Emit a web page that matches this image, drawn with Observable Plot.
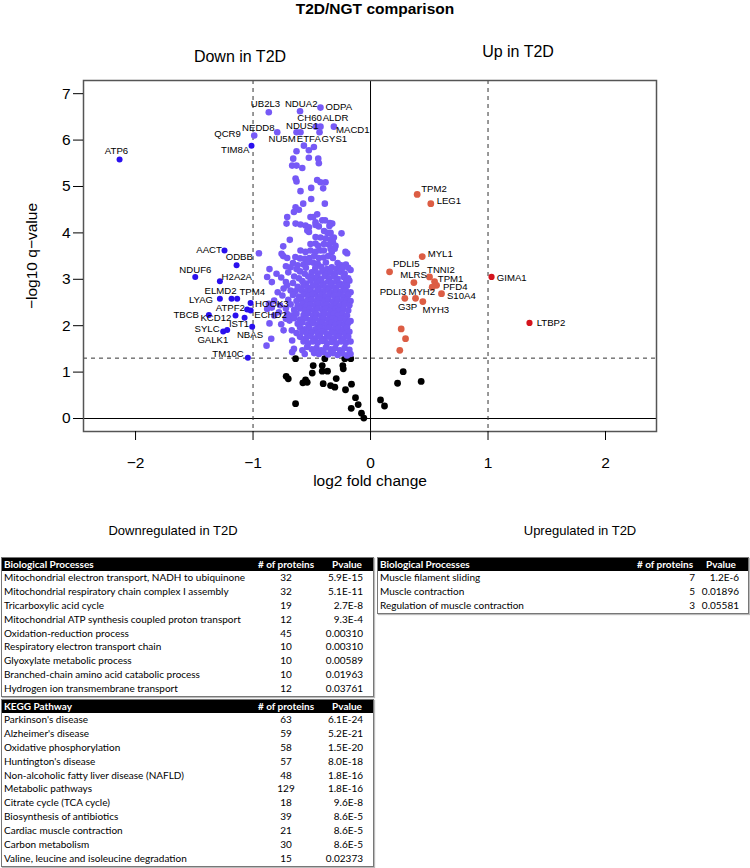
<!DOCTYPE html>
<html><head><meta charset="utf-8">
<script src="https://cdn.jsdelivr.net/npm/d3@7"></script>
<script src="https://cdn.jsdelivr.net/npm/@observablehq/plot@0.6"></script>
<style>
body{margin:0;background:#fff;}
#wrap{position:relative;width:750px;height:868px;font-family:"Liberation Sans",Arial,sans-serif;color:#000;overflow:hidden;}
#plot{position:absolute;left:0;top:0;}
.ann{position:absolute;white-space:nowrap;transform:translate(-50%,-50%);}
.tbl{position:absolute;border:1px solid #777;box-shadow:1px 1px 1px #bbb;font-family:Lato,"Open Sans",sans-serif;font-size:10px;background:#fff;}
.row{position:relative;height:13.9px;line-height:13.9px;}
.row span{position:absolute;white-space:nowrap;top:0;}
.hdr{background:#000;color:#fff;font-weight:bold;height:13px;line-height:13px;}
</style></head><body><div id="wrap"></div>
<script>
// ---------------- data ----------------
const xTicks = [-2, -1, 0, 1, 2];
const yTicks = [0, 1, 2, 3, 4, 5, 6, 7];
const fcCut = 1;
const qCut = 1.301;

// significant, -1 < log2FC < 0
const purplePts = [
[-0.866,6.60],[-0.60,6.62],[-0.426,6.70],[-0.465,6.29],[-0.426,6.29],[-0.312,6.29],[-0.794,6.17],[-0.63,6.17],[-0.596,6.17],[-0.434,6.17],[-0.99,6.10],
[-0.567,5.88],[-0.482,5.85],[-0.63,5.76],[-0.525,5.78],
[-0.658,5.60],[-0.525,5.62],[-0.445,5.60],[-0.44,5.50],
[-0.667,5.45],[-0.63,5.45],[-0.581,5.40],
[-0.638,5.17],[-0.63,5.11],[-0.454,5.14],[-0.426,5.09],[-0.383,5.09],
[-0.596,4.90],[-0.505,4.97],[-0.403,4.96],[-0.505,4.73],
[-0.573,4.63],[-0.389,4.63],[-0.638,4.55],[-0.61,4.50],[-0.652,4.45],
[-0.454,4.40],[-0.709,4.34],[-0.511,4.34],[-0.488,4.34],[-0.411,4.27],
[-0.468,4.23],[-0.715,4.20],[-0.638,4.20],[-0.596,4.18],[-0.553,4.16],[-0.524,4.12],[-0.468,4.17],[-0.44,4.14],[-0.346,4.21],[-0.326,4.20],[-0.387,4.27],[-0.35,4.15],
[-0.395,4.04],[-0.365,4.00],[-0.34,4.00],[-0.538,4.05],[-0.524,4.02],[-0.247,3.99],
[-0.468,3.91],[-0.426,3.90],[-0.383,3.88],[-0.34,3.86],[-0.312,3.90],[-0.687,3.85],
[-0.511,3.76],[-0.468,3.77],[-0.445,3.72],[-0.397,3.76],[-0.355,3.75],[-0.32,3.80],[-0.298,3.72],
[-0.743,3.71],[-0.596,3.62],[-0.553,3.59],[-0.511,3.62],[-0.468,3.59],[-0.426,3.62],[-0.397,3.62],[-0.34,3.66],[-0.305,3.66],[-0.33,3.59],[-0.213,3.59],
[-0.757,3.55],[-0.95,3.56],[-0.199,3.56],[-0.743,3.50],[-0.709,3.46],[-0.72,3.28],
[-0.64,3.48],[-0.60,3.45],[-0.56,3.44],[-0.52,3.46],[-0.48,3.50],[-0.44,3.46],[-0.40,3.47],[-0.36,3.50],[-0.32,3.46],
[-0.66,3.35],[-0.62,3.30],[-0.57,3.32],[-0.53,3.37],[-0.49,3.36],[-0.45,3.34],[-0.38,3.36],[-0.28,3.35],[-0.25,3.30],[-0.21,3.32],
[-0.86,3.22],[-0.68,3.26],[-0.63,3.22],[-0.55,3.25],[-0.47,3.24],[-0.42,3.27],[-0.37,3.22],[-0.33,3.26],[-0.29,3.22],[-0.24,3.24],[-0.19,3.25],[-0.17,3.20],
[-0.80,3.12],[-0.70,3.15],[-0.60,3.17],[-0.56,3.12],[-0.50,3.15],[-0.45,3.13],[-0.41,3.17],[-0.38,3.11],[-0.34,3.15],[-0.30,3.13],[-0.26,3.16],[-0.22,3.12],
[-0.88,3.05],[-0.76,3.04],[-0.65,3.06],[-0.61,3.02],[-0.53,3.06],[-0.49,3.03],[-0.45,3.05],[-0.42,3.00],[-0.39,3.07],[-0.35,3.02],[-0.31,3.06],[-0.28,3.01],[-0.23,3.05],[-0.19,3.02],
[-0.84,2.94],[-0.72,2.94],[-0.66,2.92],[-0.58,2.96],[-0.55,2.91],[-0.51,2.97],[-0.46,2.93],[-0.43,2.96],[-0.40,2.91],[-0.36,2.95],[-0.33,2.92],[-0.29,2.96],[-0.26,2.91],[-0.21,2.94],[-0.18,2.97],
[-0.71,2.87],[-0.74,2.80],[-0.62,2.84],[-0.57,2.86],[-0.53,2.82],[-0.49,2.86],[-0.45,2.83],[-0.41,2.87],[-0.38,2.82],[-0.34,2.85],[-0.30,2.82],[-0.27,2.87],[-0.23,2.83],[-0.20,2.86],
[-0.79,2.72],[-0.68,2.76],[-0.64,2.74],[-0.59,2.77],[-0.55,2.73],[-0.51,2.76],[-0.47,2.72],[-0.44,2.77],[-0.40,2.74],[-0.36,2.77],[-0.33,2.72],[-0.29,2.76],[-0.25,2.73],[-0.21,2.75],[-0.17,2.72],
[-0.75,2.65],[-0.66,2.66],[-0.61,2.63],[-0.57,2.67],[-0.53,2.64],[-0.49,2.67],[-0.45,2.62],[-0.42,2.66],[-0.38,2.63],[-0.35,2.67],[-0.31,2.64],[-0.27,2.66],[-0.23,2.62],[-0.19,2.66],
[-0.82,2.54],[-0.70,2.56],[-0.63,2.53],[-0.59,2.57],[-0.54,2.54],[-0.50,2.56],[-0.46,2.52],[-0.43,2.57],[-0.39,2.54],[-0.36,2.57],[-0.32,2.52],[-0.28,2.56],[-0.24,2.53],[-0.20,2.56],[-0.17,2.53],
[-0.865,2.47],[-0.77,2.44],[-0.68,2.46],[-0.62,2.43],[-0.58,2.47],[-0.55,2.42],[-0.51,2.46],[-0.47,2.43],[-0.44,2.47],[-0.40,2.44],[-0.37,2.46],[-0.33,2.42],[-0.29,2.46],[-0.26,2.43],[-0.22,2.47],[-0.18,2.44],
[-0.88,2.36],[-0.84,2.39],[-0.72,2.37],[-0.65,2.34],[-0.60,2.37],[-0.56,2.33],[-0.52,2.36],[-0.48,2.33],[-0.45,2.37],[-0.41,2.34],[-0.38,2.37],[-0.34,2.33],[-0.30,2.36],[-0.27,2.32],[-0.23,2.36],[-0.19,2.33],
[-0.78,2.29],[-0.82,2.22],[-0.71,2.25],[-0.67,2.22],[-0.63,2.26],[-0.57,2.23],[-0.53,2.27],[-0.49,2.22],[-0.46,2.25],[-0.42,2.22],[-0.39,2.27],[-0.35,2.23],[-0.31,2.26],[-0.28,2.22],[-0.24,2.25],[-0.20,2.22],
[-0.72,2.15],[-0.69,2.11],[-0.65,2.16],[-0.60,2.13],[-0.55,2.16],[-0.51,2.12],[-0.47,2.15],[-0.43,2.11],[-0.40,2.16],[-0.36,2.13],[-0.32,2.16],[-0.29,2.12],[-0.25,2.15],[-0.21,2.12],[-0.17,2.10],
[-0.86,2.05],[-0.76,2.03],[-0.62,2.04],[-0.58,2.07],[-0.53,2.03],[-0.49,2.06],[-0.45,2.02],[-0.41,2.06],[-0.37,2.03],[-0.33,2.06],[-0.30,2.02],[-0.26,2.05],[-0.22,2.02],[-0.19,2.06],
[-0.74,1.90],[-0.67,1.90],[-0.60,1.96],[-0.56,1.92],[-0.52,1.95],[-0.47,1.92],[-0.43,1.96],[-0.39,1.93],[-0.35,1.96],[-0.31,1.92],[-0.27,1.95],[-0.23,1.92],[-0.20,1.96],
[-0.63,1.84],[-0.58,1.87],[-0.54,1.83],[-0.50,1.86],[-0.45,1.84],[-0.41,1.87],[-0.37,1.82],[-0.33,1.86],[-0.29,1.83],[-0.25,1.86],[-0.21,1.83],[-0.18,1.87],
[-0.845,1.72],[-0.667,1.68],[-0.60,1.76],[-0.55,1.73],[-0.51,1.77],[-0.47,1.73],[-0.43,1.76],[-0.39,1.72],[-0.35,1.76],[-0.31,1.73],[-0.27,1.77],[-0.23,1.73],[-0.19,1.76],
[-0.885,1.57],[-0.57,1.66],[-0.53,1.62],[-0.49,1.66],[-0.45,1.63],[-0.41,1.67],[-0.37,1.62],[-0.33,1.65],[-0.29,1.62],[-0.25,1.66],[-0.21,1.63],[-0.17,1.66],
[-0.652,1.50],[-0.58,1.47],[-0.54,1.54],[-0.50,1.49],[-0.46,1.52],[-0.42,1.47],[-0.38,1.53],[-0.34,1.49],[-0.30,1.52],[-0.26,1.47],[-0.22,1.52],[-0.18,1.48],
[-0.667,1.43],[-0.56,1.39],[-0.48,1.41],[-0.44,1.39],[-0.40,1.43],[-0.36,1.38],[-0.32,1.41],[-0.28,1.37],[-0.24,1.40],[-0.20,1.36],[-0.17,1.39]
];

// significant, log2FC < -1
const bluePts = [
[-2.136,5.58],[-1.013,5.88],[-1.243,3.62],[-1.14,3.30],[-1.492,3.05],[-1.282,2.96],
[-1.282,2.58],[-1.183,2.58],[-1.135,2.58],[-1.021,2.49],[-1.05,2.35],[-1.02,2.33],
[-1.376,2.23],[-1.149,2.22],[-1.072,2.17],[-1.007,1.98],[-1.22,1.91],[-1.254,1.875],[-1.044,1.31]
];

// significant, 0 < log2FC < 1
const upPts = [
[0.397,4.83],[0.513,4.63],[0.44,3.49],[0.162,3.16],[0.502,3.05],[0.369,2.93],[0.545,2.95],
[0.562,2.87],[0.525,2.83],[0.604,2.69],[0.292,2.59],[0.383,2.59],[0.445,2.52],
[0.261,1.93],[0.298,1.72],[0.249,1.47]
];

// significant, log2FC > 1
const upStrongPts = [[1.03,3.05],[1.353,2.06]];

// not significant
const nsPts = [
[-0.638,1.29],[-0.389,1.29],[-0.219,1.29],[-0.168,1.29],[-0.488,1.14],[-0.411,1.14],[-0.236,1.14],[-0.232,1.07],
[-0.411,1.02],[-0.366,1.02],[-0.496,0.98],[-0.718,0.91],[-0.70,0.855],[-0.553,0.83],[-0.539,0.78],[-0.576,0.77],
[-0.292,0.86],[-0.403,0.75],[-0.34,0.71],[-0.304,0.675],[-0.162,0.74],[-0.213,0.62],[-0.638,0.32],[-0.128,0.45],
[-0.105,0.30],[-0.164,0.22],[-0.077,0.115],[-0.057,0.01],
[0.278,1.01],[0.23,0.76],[0.431,0.80],[0.085,0.40],[0.119,0.27]
];

// protein labels: name, label centre in data units (log2FC, -log10 q) as placed in the figure
const labels = [
["UB2L3",-0.894,6.79],["NDUA2",-0.590,6.78],["ODPA",-0.270,6.72],["CH60",-0.519,6.47],
["ALDR",-0.298,6.47],["MACD1",-0.151,6.21],["NEDD8",-0.955,6.27],["QCR9",-1.217,6.14],
["NDUS1",-0.581,6.31],["NU5M",-0.753,6.03],["ETFA",-0.525,6.03],["GYS1",-0.308,6.03],
["TIM8A",-1.152,5.78],["ATP6",-2.162,5.76],
["AACT",-1.374,3.64],["ODBB",-1.117,3.48],["NDUF6",-1.491,3.20],["H2A2A",-1.138,3.06],
["ELMD2",-1.277,2.74],["TPM4",-1.007,2.72],["LYAG",-1.443,2.56],["HOOK3",-0.840,2.48],
["ATPF2",-1.193,2.39],["ECHD2",-0.851,2.23],["TBCB",-1.569,2.24],["KCD12",-1.316,2.16],
["IST1",-1.119,2.03],["SYLC",-1.391,1.93],["NBAS",-1.026,1.80],["GALK1",-1.342,1.70],
["TM10C",-1.213,1.39],
["TPM2",0.540,4.94],["LEG1",0.667,4.68],["MYL1",0.593,3.55],["PDLI5",0.304,3.33],
["MLRS",0.366,3.10],["TNNI2",0.599,3.20],["TPM1",0.682,3.01],["PFD4",0.721,2.83],
["S10A4",0.773,2.65],["PDLI3",0.191,2.72],["MYH2",0.436,2.72],["G3P",0.316,2.40],
["MYH3",0.556,2.34],["GIMA1",1.202,3.03],["LTBP2",1.536,2.06]
];

const chartTitle = "T2D/NGT comparison";
const sideLabels = ["Down in T2D", "Up in T2D"];
const xLabel = "log2 fold change";
const yLabel = "\u2212log10 q\u2212value";

const tableHeads = ["Downregulated in T2D", "Upregulated in T2D"];
const colHeads = ["# of proteins", "Pvalue"];
const downBP = [
["Mitochondrial electron transport, NADH to ubiquinone",32,"5.9E-15"],
["Mitochondrial respiratory chain complex I assembly",32,"5.1E-11"],
["Tricarboxylic acid cycle",19,"2.7E-8"],
["Mitochondrial ATP synthesis coupled proton transport",12,"9.3E-4"],
["Oxidation-reduction process",45,"0.00310"],
["Respiratory electron transport chain",10,"0.00310"],
["Glyoxylate metabolic process",10,"0.00589"],
["Branched-chain amino acid catabolic process",10,"0.01963"],
["Hydrogen ion transmembrane transport",12,"0.03761"]
];
const downKEGG = [
["Parkinson's disease",63,"6.1E-24"],
["Alzheimer's disease",59,"5.2E-21"],
["Oxidative phosphorylation",58,"1.5E-20"],
["Huntington's disease",57,"8.0E-18"],
["Non-alcoholic fatty liver disease (NAFLD)",48,"1.8E-16"],
["Metabolic pathways",129,"1.8E-16"],
["Citrate cycle (TCA cycle)",18,"9.6E-8"],
["Biosynthesis of antibiotics",39,"8.6E-5"],
["Cardiac muscle contraction",21,"8.6E-5"],
["Carbon metabolism",30,"8.6E-5"],
["Valine, leucine and isoleucine degradation",15,"0.02373"]
];
const upBP = [
["Muscle filament sliding",7,"1.2E-6"],
["Muscle contraction",5,"0.01896"],
["Regulation of muscle contraction",3,"0.05581"]
];

// ---------------- chart ----------------
const wrap = document.getElementById("wrap");
const px = d => d[0], py = d => d[1];
const intFmt = d => (d < 0 ? "\u2212" : "") + Math.abs(d);

const chart = Plot.plot({
  width: 750, height: 495,
  marginLeft: 83, marginRight: 94, marginTop: 80, marginBottom: 64,
  x: {domain: [-2.443, 2.434]},
  y: {domain: [-0.28, 7.284]},
  style: {fontFamily: "'Liberation Sans', Arial, sans-serif", fontSize: "15px", background: "transparent", overflow: "visible"},
  marks: [
    Plot.ruleX([0], {stroke: "#000", strokeWidth: 1}),
    Plot.ruleY([0], {stroke: "#000", strokeWidth: 1}),
    Plot.ruleX([-fcCut, fcCut], {stroke: "#333", strokeDasharray: "4,4"}),
    Plot.ruleY([qCut], {stroke: "#333", strokeDasharray: "4,4"}),
    Plot.dot(nsPts, {x: px, y: py, r: 3.4, fill: "#000"}),
    Plot.dot(purplePts, {x: px, y: py, r: 3.3, fill: "#7659f6"}),
    Plot.dot(bluePts, {x: px, y: py, r: 3, fill: "#2a10ee"}),
    Plot.dot(upPts, {x: px, y: py, r: 3.4, fill: "#dc5d44"}),
    Plot.dot(upStrongPts, {x: px, y: py, r: 3.1, fill: "#d4141d"}),
    Plot.text(labels, {x: d => d[1], y: d => d[2], text: d => d[0], fontSize: 9.6, fill: "#000", textAnchor: "middle"}),
    Plot.frame({stroke: "#555", strokeWidth: 1.5}),
    Plot.axisX({ticks: xTicks, tickFormat: intFmt, tickSize: 9, tickPadding: 16, label: xLabel, labelAnchor: "center", labelArrow: "none", labelOffset: 54, fontSize: 15.5}),
    Plot.axisY({ticks: yTicks, tickFormat: intFmt, tickSize: 10, tickPadding: 3, label: yLabel, labelAnchor: "center", labelArrow: "none", labelOffset: 58, fontSize: 15.5})
  ]
});
chart.id = "plot";
wrap.appendChild(chart);

function ann(text, x, y, style) {
  const d = document.createElement("div");
  d.className = "ann";
  d.textContent = text;
  d.style.left = x + "px"; d.style.top = y + "px";
  Object.assign(d.style, style || {});
  wrap.appendChild(d);
}
ann(chartTitle, 375, 9, {fontWeight: "bold", fontSize: "15.5px"});
ann(sideLabels[0], 240, 57, {fontSize: "16px"});
ann(sideLabels[1], 518, 52, {fontSize: "16px"});
ann(tableHeads[0], 173, 530, {fontSize: "13px"});
ann(tableHeads[1], 580, 530, {fontSize: "13px"});

// ---------------- tables ----------------
function table(left, top, width, title, rows, cols) {
  const t = document.createElement("div");
  t.className = "tbl";
  t.style.left = left + "px"; t.style.top = top + "px"; t.style.width = width + "px";
  const mk = (cls, cells) => {
    const r = document.createElement("div");
    r.className = cls;
    cells.forEach(([txt, pos, anchor]) => {
      const s = document.createElement("span");
      s.textContent = txt;
      if (anchor === "start") s.style.left = pos + "px";
      else if (anchor === "end") s.style.right = (width - pos) + "px";
      else { s.style.left = pos + "px"; s.style.transform = "translateX(-50%)"; }
      r.appendChild(s);
    });
    t.appendChild(r);
  };
  mk("row hdr", [[title, 2, "start"], [colHeads[0], cols.hc, "middle"], [colHeads[1], cols.hp, "middle"]]);
  rows.forEach(r => mk("row", [[r[0], 2, "start"], [String(r[1]), cols.c, cols.ca], [r[2], cols.p, "end"]]));
  wrap.appendChild(t);
}
table(1, 557, 371, "Biological Processes", downBP, {hc: 284, hp: 345, c: 284, ca: "middle", p: 361});
table(1, 699, 371, "KEGG Pathway", downKEGG, {hc: 284, hp: 345, c: 284, ca: "middle", p: 361});
table(377, 557, 370, "Biological Processes", upBP, {hc: 287, hp: 343, c: 317, ca: "end", p: 361});
</script>
</body></html>
